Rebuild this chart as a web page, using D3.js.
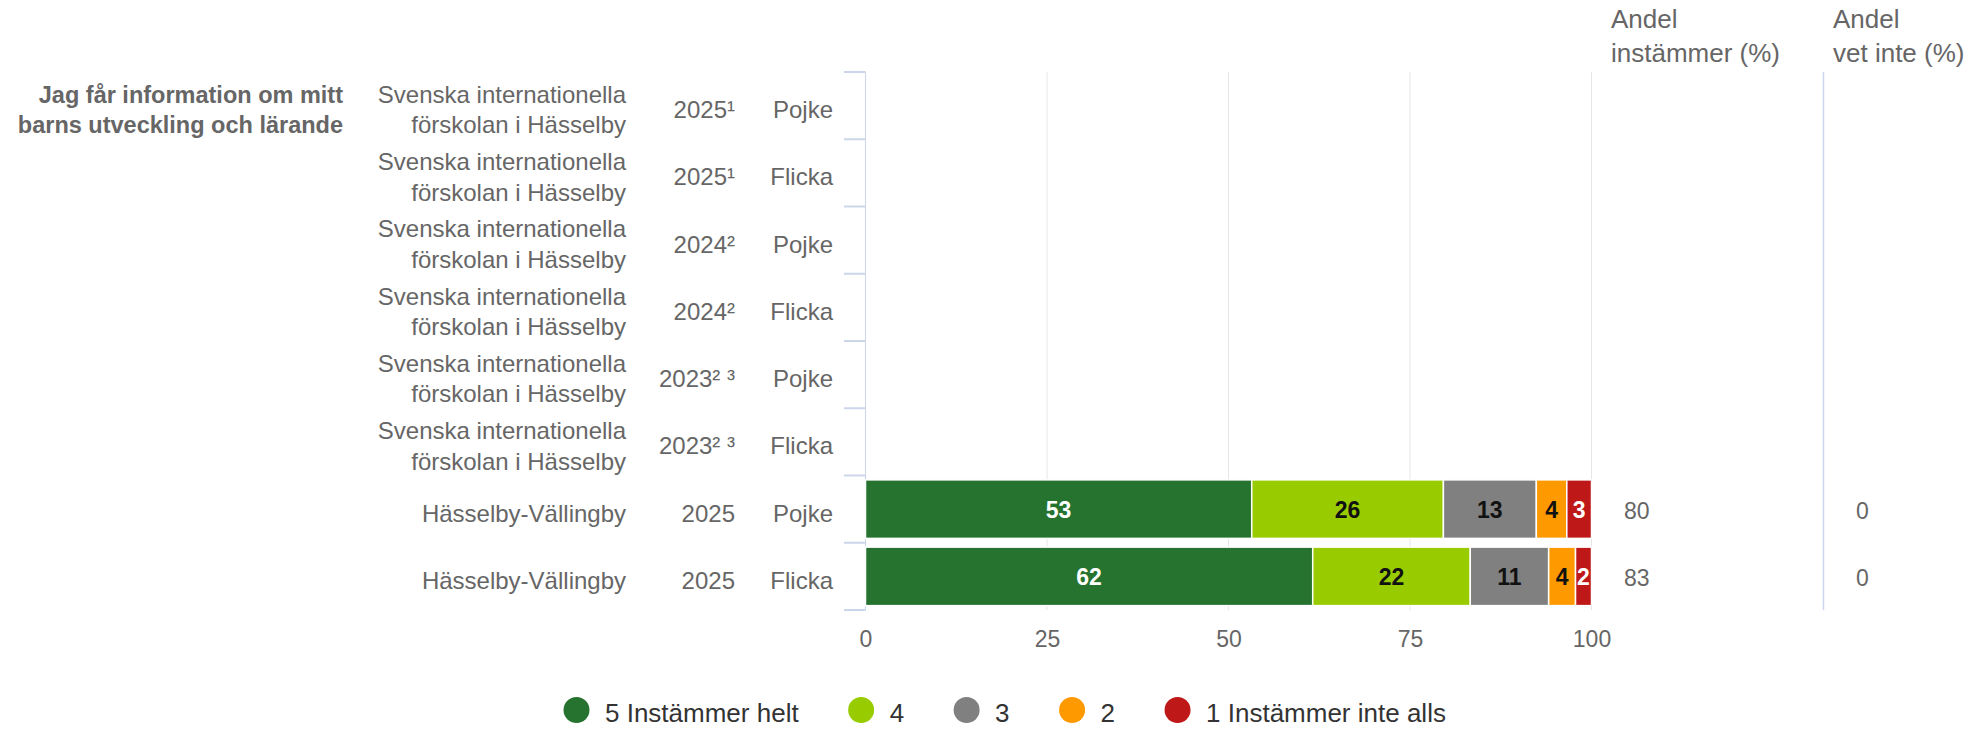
<!DOCTYPE html>
<html>
<head>
<meta charset="utf-8">
<script src="https://cdn.jsdelivr.net/npm/d3@7"></script>
<style>
  html, body { margin: 0; padding: 0; background: #fff; }
  svg { display: block; font-family: "Liberation Sans", Arial, sans-serif; }
</style>
</head>
<body>
<svg id="chart" width="1973" height="729"></svg>
<script>
// ---------------- data ----------------
const question = "Jag får information om mitt barns utveckling och lärande";
const units = [
  "Svenska internationella förskolan i Hässelby",
  "Svenska internationella förskolan i Hässelby",
  "Svenska internationella förskolan i Hässelby",
  "Svenska internationella förskolan i Hässelby",
  "Svenska internationella förskolan i Hässelby",
  "Svenska internationella förskolan i Hässelby",
  "Hässelby-Vällingby",
  "Hässelby-Vällingby"
];
const years = ["2025¹", "2025¹", "2024²", "2024²", "2023² ³", "2023² ³", "2025", "2025"];
const genders = ["Pojke", "Flicka", "Pojke", "Flicka", "Pojke", "Flicka", "Pojke", "Flicka"];

const seriesNames = ["5 Instämmer helt", "4", "3", "2", "1 Instämmer inte alls"];
const s5 = [null, null, null, null, null, null, 53.2, 61.6];
const s4 = [null, null, null, null, null, null, 26.4, 21.7];
const s3 = [null, null, null, null, null, null, 12.8, 10.8];
const s2 = [null, null, null, null, null, null, 4.2, 3.7];
const s1 = [null, null, null, null, null, null, 3.4, 2.2];
const andelInstammer = [null, null, null, null, null, null, 80, 83];
const andelVetInte = [null, null, null, null, null, null, 0, 0];
const xTicks = [0, 25, 50, 75, 100];
const headerInstammer = ["Andel", "instämmer (%)"];
const headerVetInte = ["Andel", "vet inte (%)"];

// ---------------- styles ----------------
const seriesColors = ["#267330", "#99cc00", "#808080", "#ff9900", "#bf1818"];
const labelColors = ["#ffffff", "#111111", "#111111", "#111111", "#ffffff"];
const FONT = '"Liberation Sans", Arial, sans-serif';

const svg = d3.select("#chart");
const rows = d3.range(units.length);
const seriesData = [s5, s4, s3, s2, s1];

const x = d3.scaleLinear().domain([0, 100]).range([865.5, 1591.5]);
const y = d3.scaleBand().domain(rows).range([72, 610]).paddingInner(0.13).paddingOuter(0.065);
const step = y.step();
const rowTop = i => 72 + i * step;
const rowMid = i => rowTop(i) + step / 2;

// grid lines
svg.append("g").selectAll("line").data(xTicks).join("line")
  .attr("x1", d => x(d)).attr("x2", d => x(d))
  .attr("y1", 72).attr("y2", 610)
  .attr("stroke", "#e6e6e6").attr("stroke-width", 1);

// separator line for "vet inte" column
svg.append("line")
  .attr("x1", 1823.5).attr("x2", 1823.5).attr("y1", 72).attr("y2", 610)
  .attr("stroke", "#ccd6eb").attr("stroke-width", 1.5);

// left category axis (line + ticks pointing left)
svg.append("line")
  .attr("x1", 865.5).attr("x2", 865.5).attr("y1", 72).attr("y2", 610)
  .attr("stroke", "#ccd6eb").attr("stroke-width", 1);
svg.append("g").selectAll("line").data(d3.range(units.length + 1)).join("line")
  .attr("x1", 844).attr("x2", 865.5)
  .attr("y1", i => rowTop(i)).attr("y2", i => rowTop(i))
  .attr("stroke", "#ccd6eb").attr("stroke-width", 2);

// x axis tick labels
const xAxis = d3.axisBottom(x).tickValues(xTicks).tickSize(0).tickPadding(0).tickFormat(d3.format("d"));
const xg = svg.append("g").attr("transform", "translate(0,631)").call(xAxis);
xg.select(".domain").remove();
xg.selectAll("text").attr("font-size", "23px").attr("font-family", FONT).attr("fill", "#666666").attr("dy", "0.71em");

// stacked bars
const stacked = rows.map(i => {
  let acc = 0;
  return seriesData.map((s, k) => {
    const v = s[i];
    const seg = { row: i, k, v, x0: acc, x1: acc + (v || 0) };
    acc += v || 0;
    return seg;
  });
}).flat().filter(d => d.v != null);

const bars = svg.append("g");
bars.selectAll("rect").data(stacked).join("rect")
  .attr("x", d => x(d.x0)).attr("width", d => x(d.x1) - x(d.x0))
  .attr("y", d => y(d.row)).attr("height", y.bandwidth())
  .attr("fill", d => seriesColors[d.k])
  .attr("stroke", "#ffffff").attr("stroke-width", 1.5);

bars.selectAll("text").data(stacked).join("text")
  .attr("x", d => (x(d.x0) + x(d.x1)) / 2)
  .attr("y", d => y(d.row) + y.bandwidth() / 2 + 8.5)
  .attr("text-anchor", "middle")
  .attr("font-family", FONT).attr("font-weight", "bold").attr("font-size", "23px")
  .attr("fill", d => labelColors[d.k])
  .text(d => d3.format(".0f")(d.v));

// value columns
svg.append("g").selectAll("text").data(rows.filter(i => andelInstammer[i] != null)).join("text")
  .attr("x", 1624).attr("y", i => rowMid(i) + 10)
  .attr("font-family", FONT).attr("font-size", "23px").attr("fill", "#666666")
  .text(i => andelInstammer[i]);
svg.append("g").selectAll("text").data(rows.filter(i => andelVetInte[i] != null)).join("text")
  .attr("x", 1856).attr("y", i => rowMid(i) + 10)
  .attr("font-family", FONT).attr("font-size", "23px").attr("fill", "#666666")
  .text(i => andelVetInte[i]);

// headers
function header(lines, x0) {
  const t = svg.append("text").attr("font-family", FONT).attr("font-size", "26px").attr("fill", "#666666");
  lines.forEach((l, j) => t.append("tspan").attr("x", x0).attr("y", 28 + j * 33.5).text(l));
}
header(headerInstammer, 1611);
header(headerVetInte, 1833);

// wrap helper
function wrapWords(text, maxW, size, weight) {
  const tmp = svg.append("text").attr("font-family", FONT).attr("font-size", size).attr("font-weight", weight);
  const words = text.split(" ");
  const lines = [];
  let cur = "";
  words.forEach(w => {
    const test = cur ? cur + " " + w : w;
    tmp.text(test);
    if (tmp.node().getComputedTextLength() > maxW && cur) { lines.push(cur); cur = w; }
    else cur = test;
  });
  if (cur) lines.push(cur);
  tmp.remove();
  return lines;
}

function multiLabel(text, xr, i, maxW, size, weight, fill) {
  const lines = wrapWords(text, maxW, size, weight);
  const lh = 30.6;
  const base = rowMid(i) + 12.5 - (lines.length - 1) * lh / 2;
  const t = svg.append("text").attr("text-anchor", "end").attr("font-family", FONT)
    .attr("font-size", size).attr("font-weight", weight).attr("fill", fill);
  lines.forEach((l, j) => t.append("tspan").attr("x", xr).attr("y", base + j * lh).text(l));
}

// question label (group label at the first row)
multiLabel(question, 343, 0, 335, "23.5px", "bold", "#666666");
rows.forEach(i => {
  multiLabel(units[i], 626, i, 280, "24px", "normal", "#666666");
  multiLabel(years[i], 735, i, 200, "24px", "normal", "#666666");
  multiLabel(genders[i], 833, i, 200, "24px", "normal", "#666666");
});

// legend
const lg = svg.append("g");
let cx = 576.5;
seriesNames.forEach((name, k) => {
  lg.append("circle").attr("cx", cx).attr("cy", 710).attr("r", 13).attr("fill", seriesColors[k]);
  const t = lg.append("text").attr("x", cx + 28.5).attr("y", 722)
    .attr("font-family", FONT).attr("font-size", "26px").attr("fill", "#333333").text(name);
  cx = cx + 28.5 + t.node().getComputedTextLength() + 62.5;
});
</script>
</body>
</html>
